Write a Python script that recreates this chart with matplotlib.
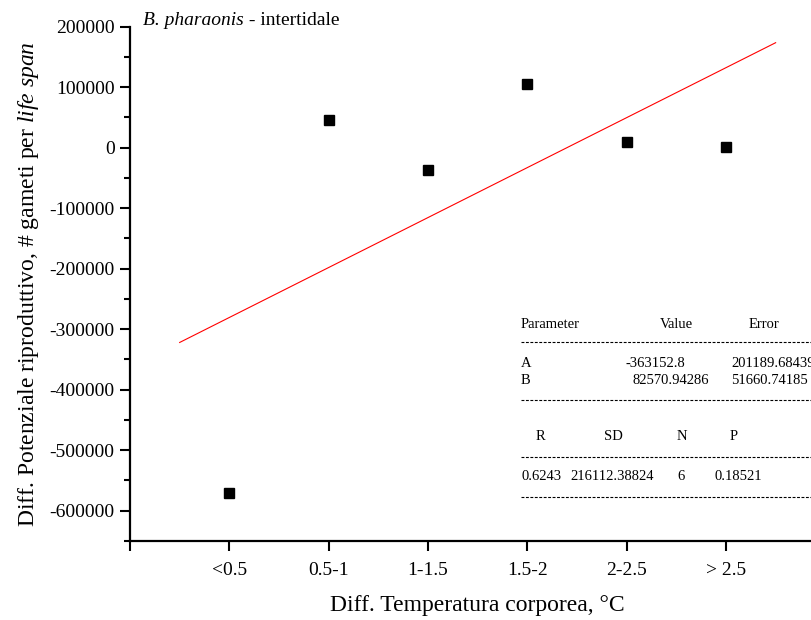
import matplotlib
matplotlib.use('Agg')
import matplotlib.pyplot as plt
from matplotlib.lines import Line2D
from matplotlib.ticker import MultipleLocator

# Dati
categorie = ['<0.5', '0.5-1', '1-1.5', '1.5-2', '2-2.5', '> 2.5']
diff_potenziale = [-570000, 45300, -37400, 105300, 9400, 1200]

# Parametri della regressione lineare (Y = A + B*X)
fit_A = -363152.8
fit_B = 82570.94286
fit_x = [0.5, 6.5]

# Tabella dei risultati
tab_header = ['Parameter', 'Value', 'Error']
tab_righe = [['A', '-363152.8', '201189.68439'],
             ['B', '82570.94286', '51660.74185']]
stat_header = ['R', 'SD', 'N', 'P']
stat_valori = ['0.6243', '216112.38824', '6', '0.18521']

plt.rcParams['font.family'] = ['Liberation Serif', 'DejaVu Serif']
plt.rcParams['mathtext.fontset'] = 'custom'
plt.rcParams['mathtext.rm'] = 'Liberation Serif'
plt.rcParams['mathtext.it'] = 'Liberation Serif:italic'
plt.rcParams['axes.unicode_minus'] = False

W, H = 812, 620
fig = plt.figure(figsize=(W / 100, H / 100), dpi=100)

# asse: x da 0 a 7 (99.33 px per unita), y da -650000 a 200000
x0, y_top, y_bot = 130, 26.7, 541.0
ax = fig.add_axes([x0 / W, 1 - y_bot / H, 7 * 99.33 / W, (y_bot - y_top) / H])

xs = list(range(1, len(categorie) + 1))
ax.plot(xs, diff_potenziale, linestyle='none', marker='s', color='black',
        markersize=7, zorder=3)
ax.plot(fit_x, [fit_A + fit_B * x for x in fit_x], color='red', linewidth=0.8)

ax.set_xlim(0, 7)
ax.set_ylim(-650000, 200000)
ax.set_xticks([0] + xs)
ax.set_xticklabels([''] + categorie)
ax.yaxis.set_major_locator(MultipleLocator(100000))
ax.yaxis.set_minor_locator(MultipleLocator(50000))

for s in ['top', 'right']:
    ax.spines[s].set_visible(False)
for s in ['left', 'bottom']:
    ax.spines[s].set_linewidth(1.6)

ax.tick_params(axis='both', which='major', direction='out', length=7, width=1.5,
               labelsize=14)
ax.tick_params(axis='y', which='minor', direction='out', length=4, width=1.5)
ax.tick_params(axis='x', pad=8)
ax.tick_params(axis='y', pad=4)

ax.set_xlabel('Diff. Temperatura corporea, \u00b0C', fontsize=17, labelpad=12)
ax.set_ylabel(r'Diff. Potenziale riproduttivo, # gameti per $\mathit{life\ span}$',
              fontsize=17, labelpad=6)

# titolo interno: specie in corsivo
tit = fig.text(143 / W, 1 - 25 / H, 'B. pharaonis', fontsize=14,
               style='italic', va='baseline', ha='left')
ax.annotate(' - intertidale', xy=(1, 0), xycoords=tit, fontsize=14,
            va='bottom', ha='left')

# tabella dei parametri
fs = 10.5


def t(x, y, s):
    fig.text(x / W, 1 - y / H, s, fontsize=fs, ha='left', va='center')


def trattini(y):
    fig.add_artist(Line2D([521 / W, 1.0], [1 - y / H, 1 - y / H],
                          transform=fig.transFigure, color='black',
                          linewidth=0.8, dashes=(2.6, 1.4)))


for x, s in zip([521, 660, 749], tab_header):
    t(x, 324, s)
trattini(342)
for y, riga in zip([364, 380], tab_righe):
    for x, s in zip([521, 626 if riga[0] == 'A' else 633, 731], riga):
        t(x, y, s)
trattini(400)
for x, s in zip([536, 604, 677, 730], stat_header):
    t(x, 437, s)
trattini(457)
for x, s in zip([521, 570, 677, 715], stat_valori):
    t(x, 476, s)
trattini(497)

fig.savefig('out.png', dpi=100)
